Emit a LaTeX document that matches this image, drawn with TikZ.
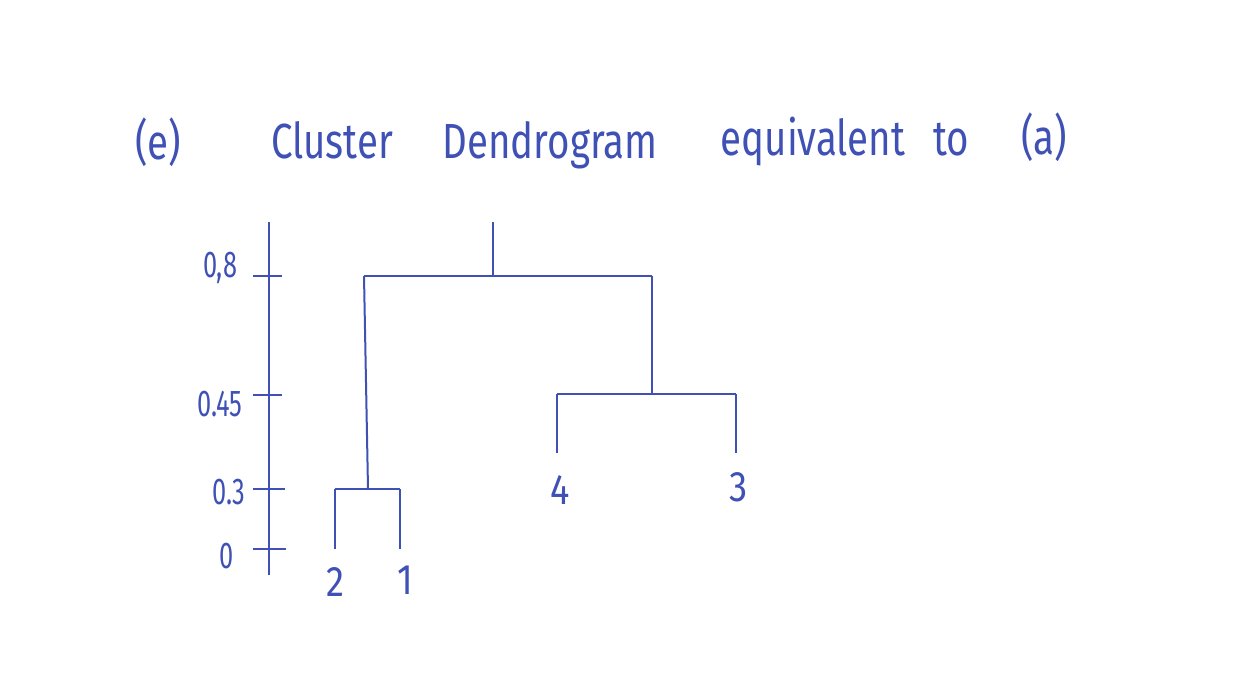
\documentclass[tikz,border=0pt]{standalone}
\usepackage{fontspec}
\setmainfont{Fira Sans}
\definecolor{ink}{RGB}{63,81,181}
\begin{document}
\begin{tikzpicture}[x=0.75pt,y=-0.75pt,
  line/.style={draw=ink,line width=1.5pt},
  ttl/.style={text=ink,font=\fontsize{37}{37}\selectfont\addfontfeature{FakeStretch=0.78},inner sep=0pt},
  num/.style={text=ink,font=\fontsize{28}{28}\selectfont\addfontfeature{FakeStretch=0.68},inner sep=0pt},
  leaf/.style={text=ink,font=\fontsize{32}{32}\selectfont\addfontfeature{FakeStretch=0.85},inner sep=0pt}]
\useasboundingbox (0,0) rectangle (1244,683);
\fill[white] (0,0) rectangle (1244,683);
% title
\node[ttl] (t1) at (158,142) {(e)};
\node[ttl] (t2) at (332,140) {Cluster};
\node[ttl] (t3) at (550,145) {Dendrogram};
\node[ttl] (t4) at (813,142) {equivalent};
\node[ttl] (t5) at (951,140) {to};
\node[ttl] (t6) at (1044,137) {(a)};
% axis
\coordinate (atop) at (269,222);
\coordinate (abot) at (269,575);
\draw[line] (atop) -- (abot);
\coordinate (k8a) at (253,276); \coordinate (k8b) at (282,276);
\coordinate (k45a) at (253,395); \coordinate (k45b) at (282,395);
\coordinate (k3a) at (253,489); \coordinate (k3b) at (285,489);
\coordinate (k0a) at (253,549); \coordinate (k0b) at (286,549);
\draw[line] (k8a) -- (k8b);
\draw[line] (k45a) -- (k45b);
\draw[line] (k3a) -- (k3b);
\draw[line] (k0a) -- (k0b);
\node[num] (l8) at (220,268) {0,8};
\node[num] (l45) at (220,404) {0.45};
\node[num] (l3) at (229,492) {0.3};
\node[num] (l0) at (227,556) {0};
% dendrogram
\coordinate (root) at (493,222);
\coordinate (rj) at (493,276);
\coordinate (rl) at (364,276);
\coordinate (rr) at (652,276);
\coordinate (cj) at (368,489);
\coordinate (cl) at (335,489);
\coordinate (cr) at (400,489);
\coordinate (leaf2) at (335,549);
\coordinate (leaf1) at (400,549);
\coordinate (dj) at (652,394);
\coordinate (dl) at (557,394);
\coordinate (dr) at (736,394);
\coordinate (leaf4) at (557,453);
\coordinate (leaf3) at (736,453);
\draw[line] (root) -- (rj);
\draw[line] (rl) -- (rr);
\draw[line] (rl) -- (cj);
\draw[line] (rr) -- (dj);
\draw[line] (cl) -- (cr);
\draw[line] (cl) -- (leaf2);
\draw[line] (cr) -- (leaf1);
\draw[line] (dl) -- (dr);
\draw[line] (dl) -- (leaf4);
\draw[line] (dr) -- (leaf3);
\node[leaf] (n2) at (335,582) {2};
\node[leaf] (n1) at (405,580) {1};
\node[leaf] (n4) at (560,490) {4};
\node[leaf] (n3) at (739,487) {3};
\end{tikzpicture}
\end{document}
